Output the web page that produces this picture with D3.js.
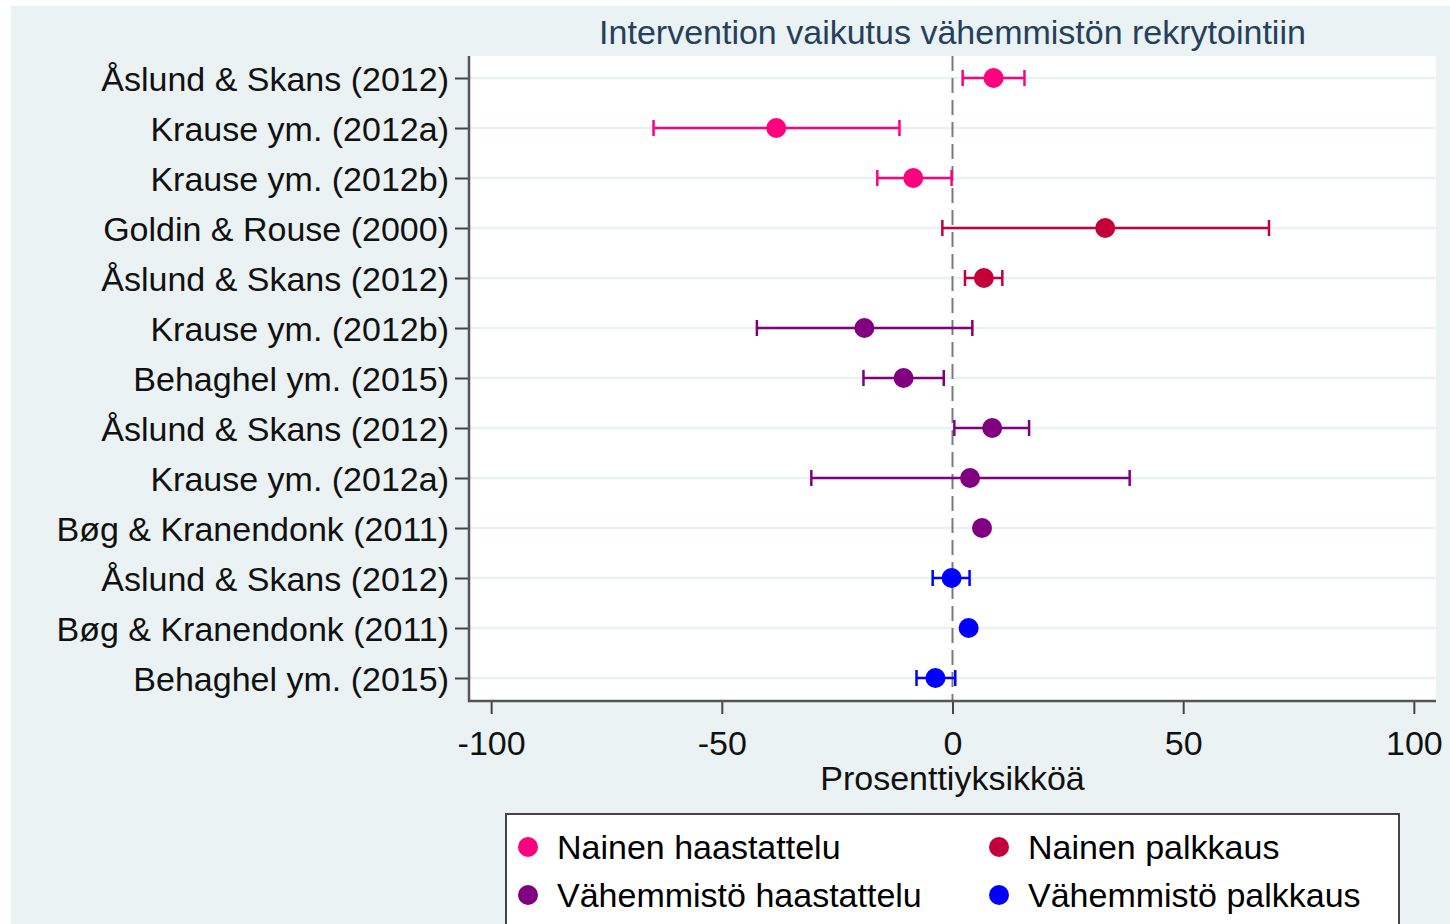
<!DOCTYPE html>
<html>
<head>
<meta charset="utf-8">
<script src="https://cdn.jsdelivr.net/npm/d3@7"></script>
<style>
  body { margin: 0; background: #fff; }
  text { font-family: "Liberation Sans", Arial, sans-serif; }
</style>
</head>
<body>
<svg id="chart" width="1450" height="924"></svg>
<script>
// study rows, top to bottom
var studies = [
    'Åslund & Skans (2012)',
    'Krause ym. (2012a)',
    'Krause ym. (2012b)',
    'Goldin & Rouse (2000)',
    'Åslund & Skans (2012)',
    'Krause ym. (2012b)',
    'Behaghel ym. (2015)',
    'Åslund & Skans (2012)',
    'Krause ym. (2012a)',
    'Bøg & Kranendonk (2011)',
    'Åslund & Skans (2012)',
    'Bøg & Kranendonk (2011)',
    'Behaghel ym. (2015)'
];
var groupOf = [0, 0, 0, 1, 1, 2, 2, 2, 2, 2, 3, 3, 3];
var estimates = [8.9, -38.2, -8.5, 33.1, 6.8, -19.1, -10.6, 8.6, 3.8, 6.4, -0.2, 3.5, -3.7];
var lower = [2.2, -64.8, -16.3, -2.2, 2.7, -42.4, -19.3, 0.4, -30.6, null, -4.3, null, -7.8];
var upper = [15.6, -11.5, -0.2, 68.6, 10.8, 4.3, -1.9, 16.6, 38.4, null, 3.7, null, 0.6];

var groupNames = ['Nainen haastattelu', 'Nainen palkkaus', 'Vähemmistö haastattelu', 'Vähemmistö palkkaus'];
var groupColors = ['#ff007f', '#c4003a', '#800080', '#0000ff'];
var xTicks = [-100, -50, 0, 50, 100];

var title = 'Intervention vaikutus vähemmistön rekrytointiin';
var xTitle = 'Prosenttiyksikköä';

var svg = d3.select('#chart');

// graph region background
svg.append('rect')
    .attr('x', 11).attr('y', 6)
    .attr('width', 1450 - 11).attr('height', 924 - 6)
    .attr('fill', '#eaf2f3');

var plotLeft = 469, plotRight = 1436, plotTop = 56, plotBottom = 701;

var x = d3.scaleLinear().domain([-104.8, 104.8]).range([plotLeft, plotRight]);
var y = d3.scalePoint().domain(d3.range(studies.length)).range([78, 678]);

// plot region
svg.append('rect')
    .attr('x', plotLeft).attr('y', plotTop)
    .attr('width', plotRight - plotLeft).attr('height', plotBottom - plotTop)
    .attr('fill', '#fff');

// grid lines
svg.append('g')
    .selectAll('line')
    .data(d3.range(studies.length))
    .enter()
    .append('line')
    .attr('x1', plotLeft).attr('x2', plotRight)
    .attr('y1', (d) => y(d)).attr('y2', (d) => y(d))
    .attr('stroke', '#eaf2f3')
    .attr('stroke-width', 2.5);

// zero reference line
svg.append('line')
    .attr('x1', x(0)).attr('x2', x(0))
    .attr('y1', plotTop).attr('y2', plotBottom)
    .attr('stroke', '#7a7a7a')
    .attr('stroke-width', 2)
    .attr('stroke-dasharray', '15,7');

// y axis
var yAxis = d3.axisLeft(y)
    .tickSize(14)
    .tickPadding(6)
    .tickFormat((i) => studies[i]);

var gy = svg.append('g')
    .attr('transform', 'translate(' + plotLeft + ',0)')
    .call(yAxis);
gy.select('.domain').remove();
gy.selectAll('.tick line').attr('stroke', '#444').attr('stroke-width', 2);
gy.selectAll('.tick text')
    .attr('fill', '#111')
    .style('font-size', '34px')
    .attr('dy', '0.37em');

svg.append('line')
    .attr('x1', plotLeft).attr('x2', plotLeft)
    .attr('y1', plotTop).attr('y2', plotBottom + 1)
    .attr('stroke', '#555')
    .attr('stroke-width', 2.5);

// x axis
var xAxis = d3.axisBottom(x)
    .tickValues(xTicks)
    .tickSize(13)
    .tickPadding(17)
    .tickFormat(d3.format('d'));

var gx = svg.append('g')
    .attr('transform', 'translate(0,' + plotBottom + ')')
    .call(xAxis);
gx.select('.domain').remove();
gx.selectAll('.tick line').attr('stroke', '#444').attr('stroke-width', 2);
gx.selectAll('.tick text')
    .attr('fill', '#111')
    .style('font-size', '34px')
    .text((d) => (d < 0 ? '-' + Math.abs(d) : d));

svg.append('line')
    .attr('x1', plotLeft - 1).attr('x2', plotRight)
    .attr('y1', plotBottom).attr('y2', plotBottom)
    .attr('stroke', '#555')
    .attr('stroke-width', 2.5);

svg.append('text')
    .attr('x', x(0)).attr('y', 790)
    .attr('text-anchor', 'middle')
    .style('font-size', '34px')
    .attr('fill', '#111')
    .text(xTitle);

svg.append('text')
    .attr('x', (plotLeft + plotRight) / 2).attr('y', 44)
    .attr('text-anchor', 'middle')
    .style('font-size', '34px')
    .attr('fill', '#24405c')
    .text(title);

// error bars
var rows = d3.range(studies.length).filter((i) => lower[i] !== null);
var bars = svg.append('g')
    .selectAll('g')
    .data(rows)
    .enter()
    .append('g')
    .attr('stroke', (i) => groupColors[groupOf[i]])
    .attr('stroke-width', 2.5);

bars.append('line')
    .attr('x1', (i) => x(lower[i])).attr('x2', (i) => x(upper[i]))
    .attr('y1', (i) => y(i)).attr('y2', (i) => y(i));
bars.append('line')
    .attr('x1', (i) => x(lower[i])).attr('x2', (i) => x(lower[i]))
    .attr('y1', (i) => y(i) - 8).attr('y2', (i) => y(i) + 8);
bars.append('line')
    .attr('x1', (i) => x(upper[i])).attr('x2', (i) => x(upper[i]))
    .attr('y1', (i) => y(i) - 8).attr('y2', (i) => y(i) + 8);

// point estimates
svg.append('g')
    .selectAll('circle')
    .data(d3.range(studies.length))
    .enter()
    .append('circle')
    .attr('cx', (i) => x(estimates[i]))
    .attr('cy', (i) => y(i))
    .attr('r', 10)
    .attr('fill', (i) => groupColors[groupOf[i]]);

// legend
svg.append('rect')
    .attr('x', 506).attr('y', 814)
    .attr('width', 1399 - 506).attr('height', 150)
    .attr('fill', '#fff')
    .attr('stroke', '#444')
    .attr('stroke-width', 2);

var legendPos = [[528, 847], [999, 847], [528, 895], [999, 895]];
var legend = svg.append('g')
    .selectAll('g')
    .data(groupNames)
    .enter()
    .append('g')
    .attr('transform', (d, i) => 'translate(' + legendPos[i][0] + ',' + legendPos[i][1] + ')');

legend.append('circle')
    .attr('r', 10)
    .attr('fill', (d, i) => groupColors[i]);

legend.append('text')
    .attr('x', 29)
    .attr('dy', '0.35em')
    .style('font-size', '34px')
    .attr('fill', '#000')
    .text((d) => d);
</script>
</body>
</html>
